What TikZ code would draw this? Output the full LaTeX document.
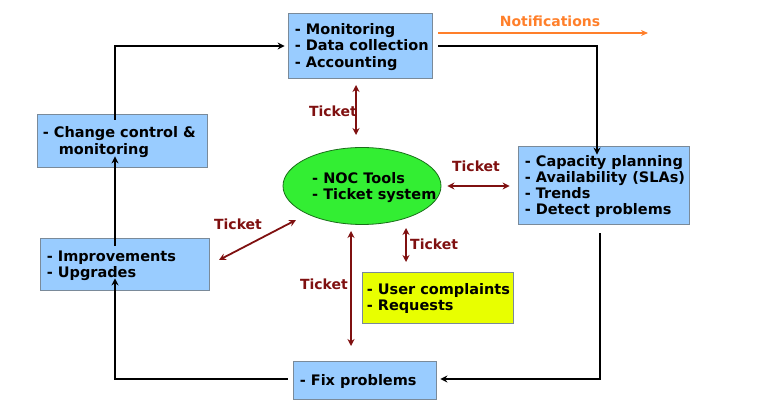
\documentclass[tikz,border=0pt]{standalone}
\usepackage{fontspec}
\setmainfont{DejaVu Sans}
\usetikzlibrary{shapes.geometric,arrows.meta}
\definecolor{boxblue}{HTML}{99CCFF}
\definecolor{boxedge}{HTML}{7A8A99}
\definecolor{nocgreen}{HTML}{33EE33}
\definecolor{nocedge}{HTML}{1A6E1A}
\definecolor{useryellow}{HTML}{E8FF00}
\definecolor{ticketred}{HTML}{7F1010}
\definecolor{notiforange}{HTML}{FF7F2A}
\tikzset{
  every node/.style={font=\bfseries\fontsize{14.5}{16.2}\selectfont},
  bluebox/.style={draw=boxedge, line width=0.8pt, fill=boxblue, rectangle, inner sep=0pt},
  boxtext/.style={inner sep=0pt, align=left, anchor=west},
  flow/.style={draw=black, line width=2pt, -{Stealth[length=7pt,width=7pt]}},
  ticketarrow/.style={draw=ticketred, line width=1.8pt, {Stealth[length=7pt,width=7pt]}-{Stealth[length=7pt,width=7pt]}},
  ticketlabel/.style={text=ticketred, inner sep=0pt, font=\bfseries\fontsize{14}{16}\selectfont},
}
\begin{document}
\begin{tikzpicture}[x=1pt,y=-1pt]
\useasboundingbox (0,0) rectangle (757,411);
% boxes
\node[bluebox, minimum width=144pt, minimum height=65pt] (mon) at (360,45.5) {};
\node[boxtext] (montext) at ([xshift=7pt,yshift=-1.5pt]mon.west) {- Monitoring\\- Data collection\\- Accounting};
\node[bluebox, minimum width=171pt, minimum height=78pt] (cap) at (603.5,185) {};
\node[boxtext] (captext) at ([xshift=7pt,yshift=-1.5pt]cap.west) {- Capacity planning\\- Availability (SLAs)\\- Trends\\- Detect problems};
\node[bluebox, minimum width=143pt, minimum height=38pt] (fix) at (364.5,380) {};
\node[boxtext] (fixtext) at ([xshift=7pt,yshift=-1pt]fix.west) {- Fix problems};
\node[bluebox, minimum width=169pt, minimum height=52pt] (imp) at (124.5,264) {};
\node[boxtext] (imptext) at ([xshift=7pt,yshift=-1.5pt]imp.west) {- Improvements\\- Upgrades};
\node[bluebox, minimum width=170pt, minimum height=53pt] (chg) at (122,140.5) {};
\node[boxtext] (chgtext) at ([xshift=6pt,yshift=-1.5pt]chg.west) {- Change control \&\\\hspace{16pt}monitoring};
\node[draw=nocedge, line width=0.8pt, fill=nocgreen, ellipse, minimum width=158pt, minimum height=77pt, inner sep=0pt] (noc) at (362,186) {};
\node[boxtext] (noctext) at (312,187.5) {- NOC Tools\\- Ticket system};
\node[draw=boxedge, line width=0.8pt, fill=useryellow, rectangle, minimum width=151pt, minimum height=51pt, inner sep=0pt] (usr) at (437.5,297.5) {};
\node[boxtext] (usrtext) at ([xshift=5pt,yshift=-1pt]usr.west) {- User complaints\\- Requests};
% main cycle
\coordinate (tr) at (597,46);
\coordinate (br) at (600,379);
\coordinate (bl) at (115,379);
\coordinate (tl) at (115,46);
\draw[flow] (438,46) -- (tr) -- ([yshift=-9pt]cap.north -| tr);
\draw[flow] (cap.south -| br) ++(0,9) -- (br) -- ([xshift=4pt]fix.east |- br);
\draw[flow] ([xshift=-5pt]fix.west |- bl) -- (bl) -- ([yshift=12pt]imp.south -| bl);
\draw[flow] ([yshift=-8pt]imp.north -| bl) -- ([yshift=11pt]chg.south -| bl);
\draw[flow] ([yshift=-6pt]chg.north -| tl) -- (tl) -- ([xshift=-3pt]mon.west |- tl);
% notifications
\coordinate (nend) at (648,33);
\draw[draw=notiforange, line width=2pt, -{Stealth[length=7pt,width=6pt]}] ([xshift=6pt]mon.east |- nend) -- (nend);
\node[text=notiforange, inner sep=0pt, font=\bfseries\fontsize{14}{16}\selectfont] (nlab) at (550,21) {Notifications};
% tickets
\draw[ticketarrow] (356,85) -- (356,135) coordinate (t1b);
\node[ticketlabel, anchor=east] (t1) at (357,111) {Ticket};
\draw[ticketarrow] ([xshift=6pt]noc.east) -- ([xshift=-8pt]cap.west |- noc.east);
\node[ticketlabel] (t2) at (476,166) {Ticket};
\draw[ticketarrow] (406,228) -- (406,262);
\node[ticketlabel, anchor=west] (t3) at (410,244) {Ticket};
\draw[ticketarrow] (351,231) -- (351,346);
\node[ticketlabel, anchor=east] (t4) at (348,284) {Ticket};
\draw[ticketarrow] (219,260) -- (296,220);
\node[ticketlabel] (t5) at (238,224) {Ticket};
\end{tikzpicture}
\end{document}
